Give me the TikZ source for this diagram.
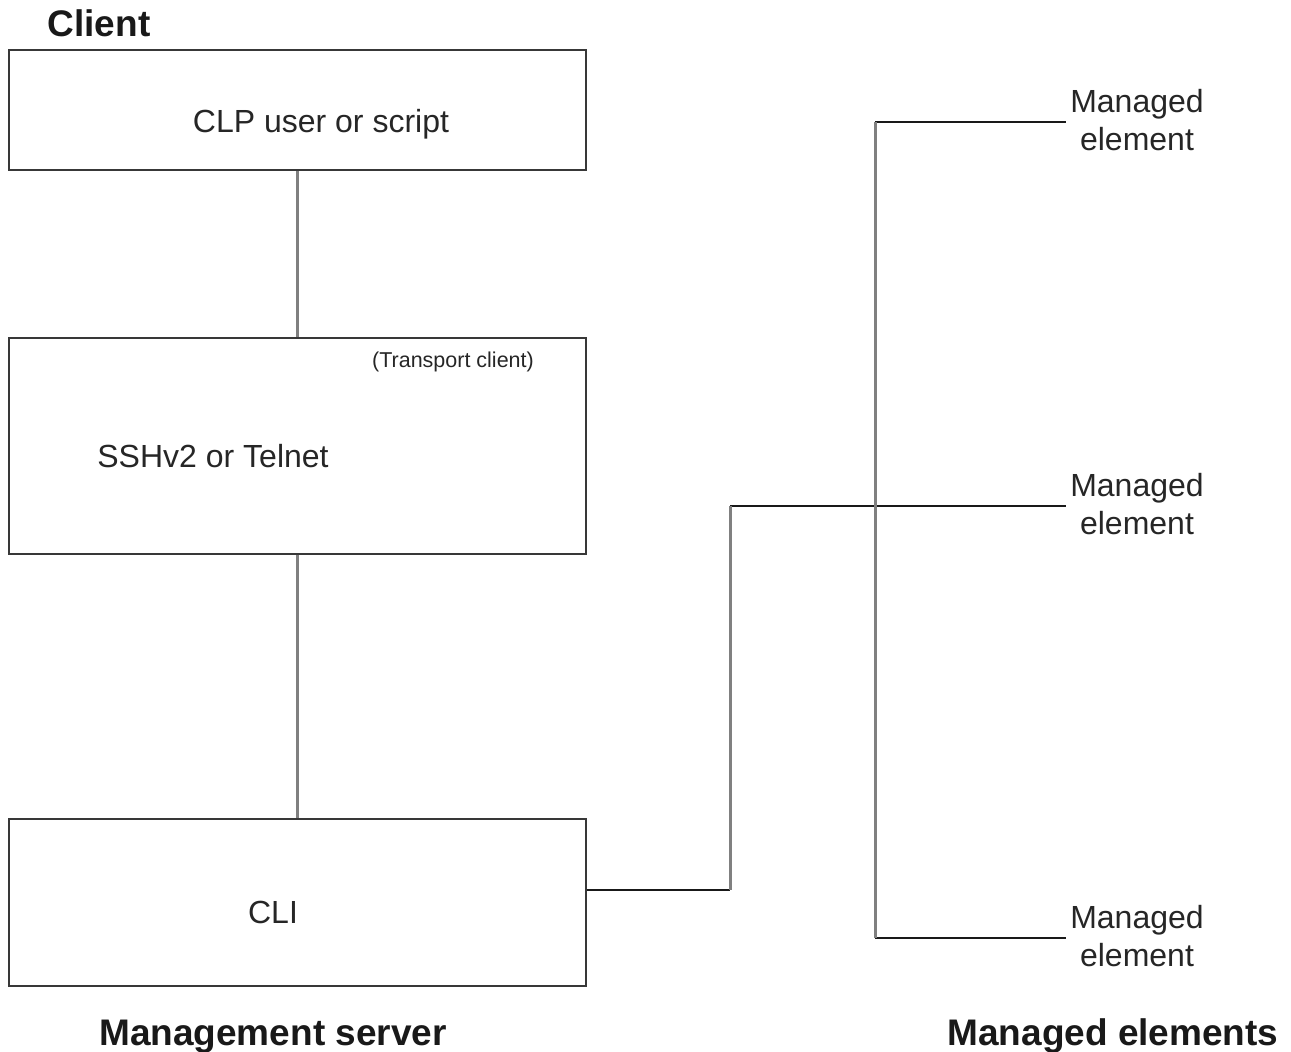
\documentclass[tikz,border=0pt]{standalone}
\usepackage{fontspec}
\setmainfont{Liberation Sans}
\begin{document}
\begin{tikzpicture}[x=1pt,y=-1pt,
  box/.style={draw=black!78,line width=1.6pt,rectangle,minimum width=577pt,inner sep=0pt},
  txt/.style={font=\fontsize{32}{38}\selectfont,text=black!85,inner sep=0pt},
  small/.style={font=\fontsize{21.5}{26}\selectfont,text=black!85,inner sep=0pt},
  head/.style={font=\fontsize{37}{44}\selectfont\bfseries,text=black!90,inner sep=0pt},
  hline/.style={draw=black!90,line width=1.6pt},
  vline/.style={draw=black!50,line width=3pt}]
\useasboundingbox (0,0) rectangle (1291,1052);
% boxes
\node[box,minimum height=120pt] (b1) at (297.5,110) {};
\node[box,minimum height=216pt] (b2) at (297.5,446) {};
\node[box,minimum height=167pt] (b3) at (297.5,902.5) {};
% texts
\node[head,anchor=base] (client) at (99,36) {Client};
\node[txt,anchor=base] (clp) at (321,132) {CLP user or script};
\node[small,anchor=base] (tc) at (453,367) {(Transport client)};
\node[txt,anchor=base] (ssh) at (213,467) {SSHv2 or Telnet};
\node[txt,anchor=base] (cli) at (273,923) {CLI};
\node[head,anchor=base] (ms) at (273,1045) {Management server};
\node[head,anchor=base] (mes) at (1113,1045) {Managed elements};
\node[txt,align=center] (m1) at (1137,120) {Managed\\element};
\node[txt,align=center] (m2) at (1137,504) {Managed\\element};
\node[txt,align=center] (m3) at (1137,936) {Managed\\element};
% coordinates
\coordinate (c1) at (730,890);
\coordinate (c2) at (730,506);
\coordinate (e2) at (1066,506);
\coordinate (t1) at (875,122);
\coordinate (e1) at (1066,122);
\coordinate (t3) at (875,938);
\coordinate (e3) at (1066,938);
% horizontal black segments
\draw[hline] (b3.east |- c1) -- (c1);
\draw[hline] (c2) -- (e2);
\draw[hline] (t1) -- (e1);
\draw[hline] (t3) -- (e3);
% vertical gray segments
\draw[vline] (b1.south) -- (b2.north);
\draw[vline] (b2.south) -- (b3.north);
\draw[vline] (c1) -- (c2);
\draw[vline] (t1) -- (t3);
\end{tikzpicture}
\end{document}
